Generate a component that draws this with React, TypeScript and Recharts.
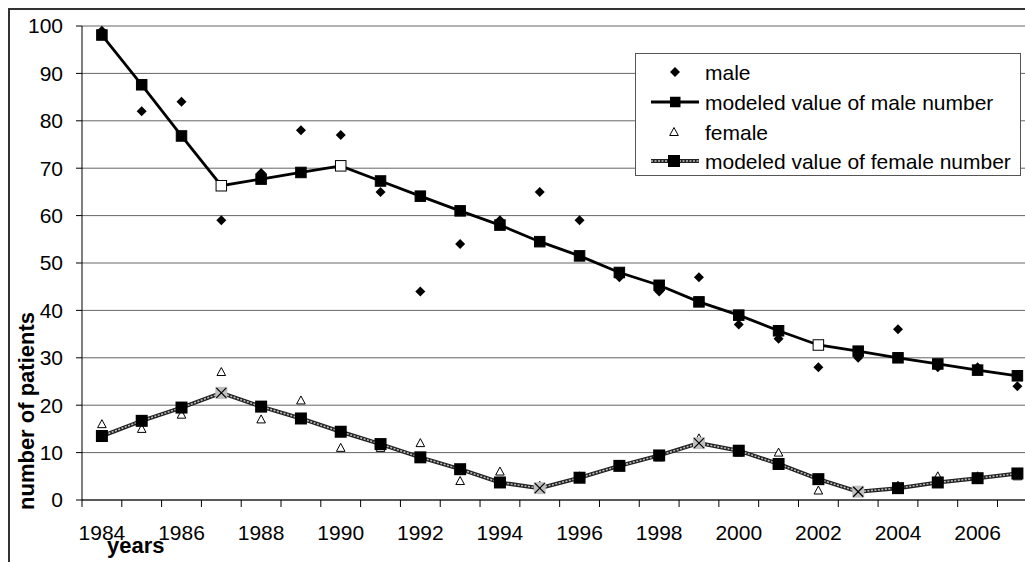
import React from 'react';
import { ComposedChart, Line, XAxis, YAxis, CartesianGrid } from 'recharts';

const years = [1984, 1985, 1986, 1987, 1988, 1989, 1990, 1991, 1992, 1993, 1994, 1995, 1996, 1997, 1998, 1999, 2000, 2001, 2002, 2003, 2004, 2005, 2006, 2007];
const male = [99, 82, 84, 59, 69, 78, 77, 65, 44, 54, 59, 65, 59, 47, 44, 47, 37, 34, 28, 30, 36, 28, 28, 24];
const maleModel = [98.1, 87.6, 76.8, 66.3, 67.7, 69.1, 70.5, 67.3, 64.1, 61.0, 58.0, 54.5, 51.5, 48.0, 45.3, 41.8, 39.0, 35.7, 32.7, 31.4, 30.0, 28.7, 27.4, 26.2];
const female = [16, 15, 18, 27, 17, 21, 11, 11, 12, 4, 6, 3, 5, 7, 9, 13, 10, 10, 2, 2, 3, 5, 5, 5];
const femaleModel = [13.5, 16.7, 19.5, 22.6, 19.7, 17.2, 14.4, 11.8, 9.0, 6.5, 3.7, 2.5, 4.7, 7.2, 9.4, 12.0, 10.4, 7.6, 4.4, 1.75, 2.5, 3.7, 4.6, 5.6];
const maleSpecialYears = [1987, 1990, 2002];
const femaleSpecialYears = [1987, 1995, 1999, 2003];
const yTicks = [0, 10, 20, 30, 40, 50, 60, 70, 80, 90, 100];
const legendLabels = ['male', 'modeled value of male number', 'female', 'modeled value of female number'];

const data = years.map((year, i) => ({
  year,
  male: male[i],
  maleModel: maleModel[i],
  female: female[i],
  femaleModel: femaleModel[i],
}));

const CHART_W = 1040;
const CHART_H = 562;
const PLOT_LEFT = 82;
const PLOT_RIGHT = 1037.3;
const PLOT_TOP = 26;
const PLOT_BOTTOM = 500;
const BAND = (PLOT_RIGHT - PLOT_LEFT) / years.length;
const FONT = '"Liberation Sans", Arial, sans-serif';

const XTick = (props: any) => {
  const { x, payload } = props;
  const yr = payload.value as number;
  const isLast = yr === years[years.length - 1];
  return (
    <g>
      <line x1={x - BAND / 2} x2={x - BAND / 2} y1={PLOT_BOTTOM} y2={PLOT_BOTTOM + 7} stroke="#000" strokeWidth={1} />
      {isLast && (
        <line x1={x + BAND / 2} x2={x + BAND / 2} y1={PLOT_BOTTOM} y2={PLOT_BOTTOM + 7} stroke="#000" strokeWidth={1} />
      )}
      {yr % 2 === 0 && (
        <text x={x} y={PLOT_BOTTOM + 40} textAnchor="middle" fontSize={21} fontFamily={FONT} fill="#000">
          {yr}
        </text>
      )}
    </g>
  );
};

const diamondDot = (props: any) => {
  const { cx, cy, index } = props;
  if (cx == null || cy == null) return <g key={`d${index}`} />;
  const r = 5;
  return <polygon key={`d${index}`} points={`${cx},${cy - r} ${cx + r},${cy} ${cx},${cy + r} ${cx - r},${cy}`} fill="#000" />;
};

const triangleDot = (props: any) => {
  const { cx, cy, index } = props;
  if (cx == null || cy == null) return <g key={`t${index}`} />;
  return (
    <polygon
      key={`t${index}`}
      points={`${cx},${cy - 4.5} ${cx + 4.3},${cy + 3.5} ${cx - 4.3},${cy + 3.5}`}
      fill="#fff"
      stroke="#000"
      strokeWidth={1}
    />
  );
};

const maleSquareDot = (props: any) => {
  const { cx, cy, index, payload } = props;
  if (cx == null || cy == null) return <g key={`m${index}`} />;
  const s = 10.5;
  const special = maleSpecialYears.includes(payload.year);
  return (
    <rect
      key={`m${index}`}
      x={cx - s / 2}
      y={cy - s / 2}
      width={s}
      height={s}
      fill={special ? '#fff' : '#000'}
      stroke="#000"
      strokeWidth={1}
    />
  );
};

const femaleSquareDot = (props: any) => {
  const { cx, cy, index, payload } = props;
  if (cx == null || cy == null) return <g key={`f${index}`} />;
  const special = femaleSpecialYears.includes(payload.year);
  if (special) {
    const s = 12;
    const h = 5;
    return (
      <g key={`f${index}`}>
        <rect x={cx - s / 2} y={cy - s / 2} width={s} height={s} fill="#c0c0c0" />
        <line x1={cx - h} y1={cy - h} x2={cx + h} y2={cy + h} stroke="#000" strokeWidth={1.2} />
        <line x1={cx - h} y1={cy + h} x2={cx + h} y2={cy - h} stroke="#000" strokeWidth={1.2} />
      </g>
    );
  }
  const s = 12;
  return <rect key={`f${index}`} x={cx - s / 2} y={cy - s / 2} width={s} height={s} fill="#000" />;
};

const LegendBox = () => {
  const rowY = [18, 48, 78, 107];
  return (
    <div
      style={{
        position: 'absolute',
        left: 635,
        top: 53,
        width: 386,
        height: 123,
        background: '#fff',
        border: '1.5px solid #555',
        boxSizing: 'border-box',
      }}
    >
      <svg width={386} height={123} style={{ position: 'absolute', left: 0, top: 0 }}>
        {/* male */}
        <polygon points={`39,${rowY[0] - 5} 44,${rowY[0]} 39,${rowY[0] + 5} 34,${rowY[0]}`} fill="#000" />
        {/* male model */}
        <line x1={15} x2={63} y1={rowY[1]} y2={rowY[1]} stroke="#000" strokeWidth={2.8} />
        <rect x={34} y={rowY[1] - 5.25} width={10.5} height={10.5} fill="#000" />
        {/* female */}
        <polygon points={`38,${rowY[2] - 4.5} 42.3,${rowY[2] + 3.5} 33.7,${rowY[2] + 3.5}`} fill="#fff" stroke="#000" strokeWidth={1} />
        {/* female model */}
        <line x1={15} x2={63} y1={rowY[3]} y2={rowY[3]} stroke="#222" strokeWidth={4} />
        <line x1={15} x2={63} y1={rowY[3]} y2={rowY[3]} stroke="#bbb" strokeWidth={1.6} strokeDasharray="2 1.5" />
        <rect x={32} y={rowY[3] - 6} width={12} height={12} fill="#000" />
        {legendLabels.map((t, i) => (
          <text key={t} x={69} y={rowY[i] + 7.5} fontSize={21} fontFamily={FONT} fill="#000">
            {t}
          </text>
        ))}
      </svg>
    </div>
  );
};

export default function App() {
  return (
    <div
      style={{
        position: 'absolute',
        left: 0,
        top: 0,
        width: 1025,
        height: 562,
        overflow: 'hidden',
        background: '#fff',
      }}
    >
      <div
        style={{
          position: 'absolute',
          left: 8,
          top: 8,
          width: 2000,
          height: 2000,
          borderLeft: '2px solid #333',
          borderTop: '2px solid #333',
        }}
      />
      <div style={{ position: 'absolute', left: 0, top: 0 }}>
        <ComposedChart
          width={CHART_W}
          height={CHART_H}
          data={data}
          margin={{ top: PLOT_TOP, right: CHART_W - PLOT_RIGHT, bottom: 0, left: 0 }}
        >
          <CartesianGrid vertical={false} stroke="#666" strokeWidth={1} />
          <XAxis
            dataKey="year"
            type="number"
            domain={[years[0] - 0.5, years[years.length - 1] + 0.5]}
            ticks={years}
            interval={0}
            tick={<XTick />}
            tickLine={false}
            axisLine={{ stroke: '#000', strokeWidth: 1 }}
            height={CHART_H - PLOT_BOTTOM}
          />
          <YAxis
            type="number"
            domain={[0, 100]}
            ticks={yTicks}
            interval={0}
            width={PLOT_LEFT}
            tickSize={6}
            tickMargin={13}
            tickLine={{ stroke: '#000' }}
            axisLine={{ stroke: '#000', strokeWidth: 1 }}
            tick={{ fontSize: 21, fontFamily: FONT, fill: '#000' }}
          />
          <Line dataKey="male" stroke="none" dot={diamondDot} activeDot={false} isAnimationActive={false} legendType="none" />
          <Line dataKey="maleModel" stroke="#000" strokeWidth={2.8} dot={maleSquareDot} activeDot={false} isAnimationActive={false} />
          <Line dataKey="female" stroke="none" dot={triangleDot} activeDot={false} isAnimationActive={false} />
          <Line dataKey="femaleModel" stroke="#222" strokeWidth={4} dot={false} activeDot={false} isAnimationActive={false} />
          <Line
            dataKey="femaleModel"
            stroke="#bbb"
            strokeWidth={1.6}
            strokeDasharray="2 1.5"
            dot={femaleSquareDot}
            activeDot={false}
            isAnimationActive={false}
          />
        </ComposedChart>
      </div>
      <svg width={1025} height={562} style={{ position: 'absolute', left: 0, top: 0, pointerEvents: 'none' }}>
        <text x={34} y={411} transform="rotate(-90, 34, 411)" textAnchor="middle" fontSize={22} fontWeight="bold" fontFamily={FONT} fill="#000">
          number of patients
        </text>
        <text x={107} y={553} fontSize={22} fontWeight="bold" fontFamily={FONT} fill="#000">
          years
        </text>
      </svg>
      <LegendBox />
    </div>
  );
}
